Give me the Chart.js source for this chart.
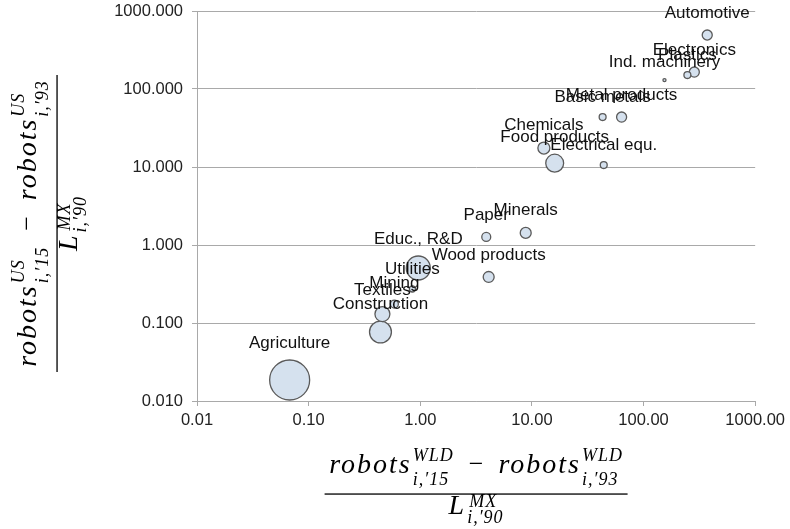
<!DOCTYPE html>
<html>
<head>
<meta charset="utf-8">
<script src="https://cdn.jsdelivr.net/npm/chart.js@4/dist/chart.umd.min.js"></script>
<style>
  html, body { margin: 0; padding: 0; background: #ffffff; }
  #wrap { position: relative; width: 790px; height: 529px; }
  canvas { display: block; }
</style>
</head>
<body>
<div id="wrap"><canvas id="c" width="790" height="529"></canvas></div>
<script>
// ---------- data ----------
const categories = ['Agriculture', 'Educ., R&D', 'Construction', 'Food products', 'Textiles',
  'Chemicals', 'Minerals', 'Wood products', 'Automotive', 'Electronics', 'Metal products',
  'Paper', 'Mining', 'Plastics', 'Basic metals', 'Electrical equ.', 'Utilities', 'Ind. machinery'];
// x: world robots change per worker
const worldRobots = [0.0676, 0.96, 0.44, 16.0, 0.458, 12.8, 8.8, 4.1, 372, 285, 63.6,
  3.9, 0.586, 247, 43, 44, 0.85, 154];
// y: US robots change per worker
const usRobots = [0.0186, 0.507, 0.0767, 11.2, 0.130, 17.5, 1.43, 0.389, 492, 165, 43.7,
  1.27, 0.175, 151, 43.7, 10.6, 0.273, 130];
// bubble weight (employment, relative)
const employment = [100, 36, 30, 20, 14, 9, 7.5, 7.5, 6.3, 6.3, 6.3, 5, 4, 3, 3, 3, 2.3, 0.6];
const xTickValues = [0.01, 0.1, 1, 10, 100, 1000];
const yTickValues = [0.01, 0.1, 1, 10, 100, 1000];

// ---------- styling ----------
const AXIS_GREY = '#a9a9a9';
const TICK_FONT = { family: '"Liberation Sans", Arial, sans-serif', size: 16.5 };
const bubbleRadius = w => 2 * Math.sqrt(w);

const points = categories.map((c, i) => ({ x: worldRobots[i], y: usRobots[i], r: bubbleRadius(employment[i]) }));

// labels above bubbles
const labelPlugin = {
  id: 'bubbleLabels',
  afterDatasetsDraw(chart) {
    const ctx = chart.ctx;
    const meta = chart.getDatasetMeta(0);
    ctx.save();
    ctx.font = '17px "Liberation Sans", Arial, sans-serif';
    ctx.fillStyle = '#111';
    ctx.textAlign = 'center';
    ctx.textBaseline = 'alphabetic';
    meta.data.forEach((el, i) => {
      const r = chart.data.datasets[0].data[i].r;
      ctx.fillText(categories[i], el.x, el.y - r - 12);
    });
    ctx.restore();
  }
};

// LaTeX-like fraction axis titles
const MAIN_FONT = 'italic 28px "Liberation Serif", "Times New Roman", serif';
const SCRIPT_FONT = 'italic 18px "Liberation Serif", "Times New Roman", serif';
const OP_FONT = '26px "Liberation Serif", "Times New Roman", serif';

function runWidth(ctx, part) {
  if (part.op) { ctx.font = OP_FONT; ctx.letterSpacing = '0px'; return ctx.measureText(part.op).width + 2 * part.gap; }
  ctx.font = MAIN_FONT; ctx.letterSpacing = '2px';
  const bw = ctx.measureText(part.base).width;
  ctx.font = SCRIPT_FONT; ctx.letterSpacing = '1px';
  const sw = Math.max(ctx.measureText(part.sup).width, ctx.measureText(part.sub).width);
  return bw + 1 + sw;
}
function drawRun(ctx, x, y, part) {
  if (part.op) {
    ctx.font = OP_FONT; ctx.letterSpacing = '0px';
    ctx.fillText(part.op, x + part.gap, y - 1);
    return;
  }
  ctx.font = MAIN_FONT; ctx.letterSpacing = '2px';
  const bw = ctx.measureText(part.base).width;
  ctx.fillText(part.base, x, y);
  ctx.font = SCRIPT_FONT; ctx.letterSpacing = '1px';
  ctx.fillText(part.sup, x + bw + 1 + (part.supShift || 0), y - part.up);
  ctx.fillText(part.sub, x + bw + 1, y + part.down);
}
function drawLine(ctx, cx, baseline, parts) {
  const widths = parts.map(p => runWidth(ctx, p));
  const total = widths.reduce((a, b) => a + b, 0);
  let x = cx - total / 2;
  parts.forEach((p, i) => { drawRun(ctx, x, baseline, p); x += widths[i]; });
}
function drawFraction(ctx, cx, barY, barLen, num, den) {
  ctx.fillStyle = '#000';
  ctx.textAlign = 'left';
  ctx.textBaseline = 'alphabetic';
  drawLine(ctx, cx, barY - 21, num);
  ctx.fillRect(cx - barLen / 2, barY - 0.6, barLen, 1.3);
  drawLine(ctx, cx, barY + 20, den);
}
const titlePlugin = {
  id: 'mathTitles',
  afterDraw(chart) {
    const ctx = chart.ctx;
    ctx.save();
    const xNum = [
      { base: 'robots', sup: 'WLD', sub: 'i,′15', up: 12, down: 12 },
      { op: '−', gap: 15 },
      { base: 'robots', sup: 'WLD', sub: 'i,′93', up: 12, down: 12 }
    ];
    const xDen = [{ base: 'L', sup: 'MX', sub: 'i,′90', up: 7, down: 9, supShift: 2 }];
    const cxX = (chart.chartArea.left + chart.chartArea.right) / 2;
    drawFraction(ctx, cxX, 494, 303, xNum, xDen);
    ctx.restore();

    ctx.save();
    ctx.translate(57, 223.5);
    ctx.rotate(-Math.PI / 2);
    const yNum = [
      { base: 'robots', sup: 'US', sub: 'i,′15', up: 12, down: 12 },
      { op: '−', gap: 16 },
      { base: 'robots', sup: 'US', sub: 'i,′93', up: 12, down: 12 }
    ];
    const yDen = [{ base: 'L', sup: 'MX', sub: 'i,′90', up: 7, down: 9, supShift: 2 }];
    drawFraction(ctx, 0, 0, 297, yNum, yDen);
    ctx.restore();
  }
};

new Chart(document.getElementById('c'), {
  type: 'bubble',
  data: {
    datasets: [{
      data: points,
      backgroundColor: '#d5e1ee',
      borderColor: '#5a5a5a',
      borderWidth: 1.3,
      hoverBorderWidth: 1.3,
      clip: false
    }]
  },
  options: {
    responsive: false,
    animation: false,
    devicePixelRatio: 1,
    events: [],
    layout: { autoPadding: false, padding: { top: 11, right: 33, left: 0, bottom: 0 } },
    plugins: { legend: { display: false }, tooltip: { enabled: false } },
    scales: {
      x: {
        type: 'logarithmic',
        min: 0.01, max: 1000,
        afterBuildTicks: s => { s.ticks = xTickValues.map(v => ({ value: v })); },
        afterFit: s => { s.height = 128; },
        ticks: {
          callback: v => Number(v).toFixed(2),
          font: TICK_FONT, color: '#222', padding: 5,
          maxRotation: 0, autoSkip: false
        },
        grid: { drawOnChartArea: false, drawTicks: true, tickLength: 5, color: AXIS_GREY, lineWidth: 1 },
        border: { display: true, color: AXIS_GREY, width: 1 }
      },
      y: {
        type: 'logarithmic',
        min: 0.01, max: 1000,
        afterBuildTicks: s => { s.ticks = yTickValues.map(v => ({ value: v })); },
        afterFit: s => { s.width = 197; s.paddingTop = 0; s.paddingBottom = 0; },
        ticks: {
          callback: v => Number(v).toFixed(3),
          font: TICK_FONT, color: '#222', padding: 9, autoSkip: false
        },
        grid: { drawOnChartArea: true, drawTicks: true, tickLength: 5, color: AXIS_GREY, lineWidth: 1 },
        border: { display: true, color: AXIS_GREY, width: 1 }
      }
    }
  },
  plugins: [labelPlugin, titlePlugin]
});
</script>
</body>
</html>
